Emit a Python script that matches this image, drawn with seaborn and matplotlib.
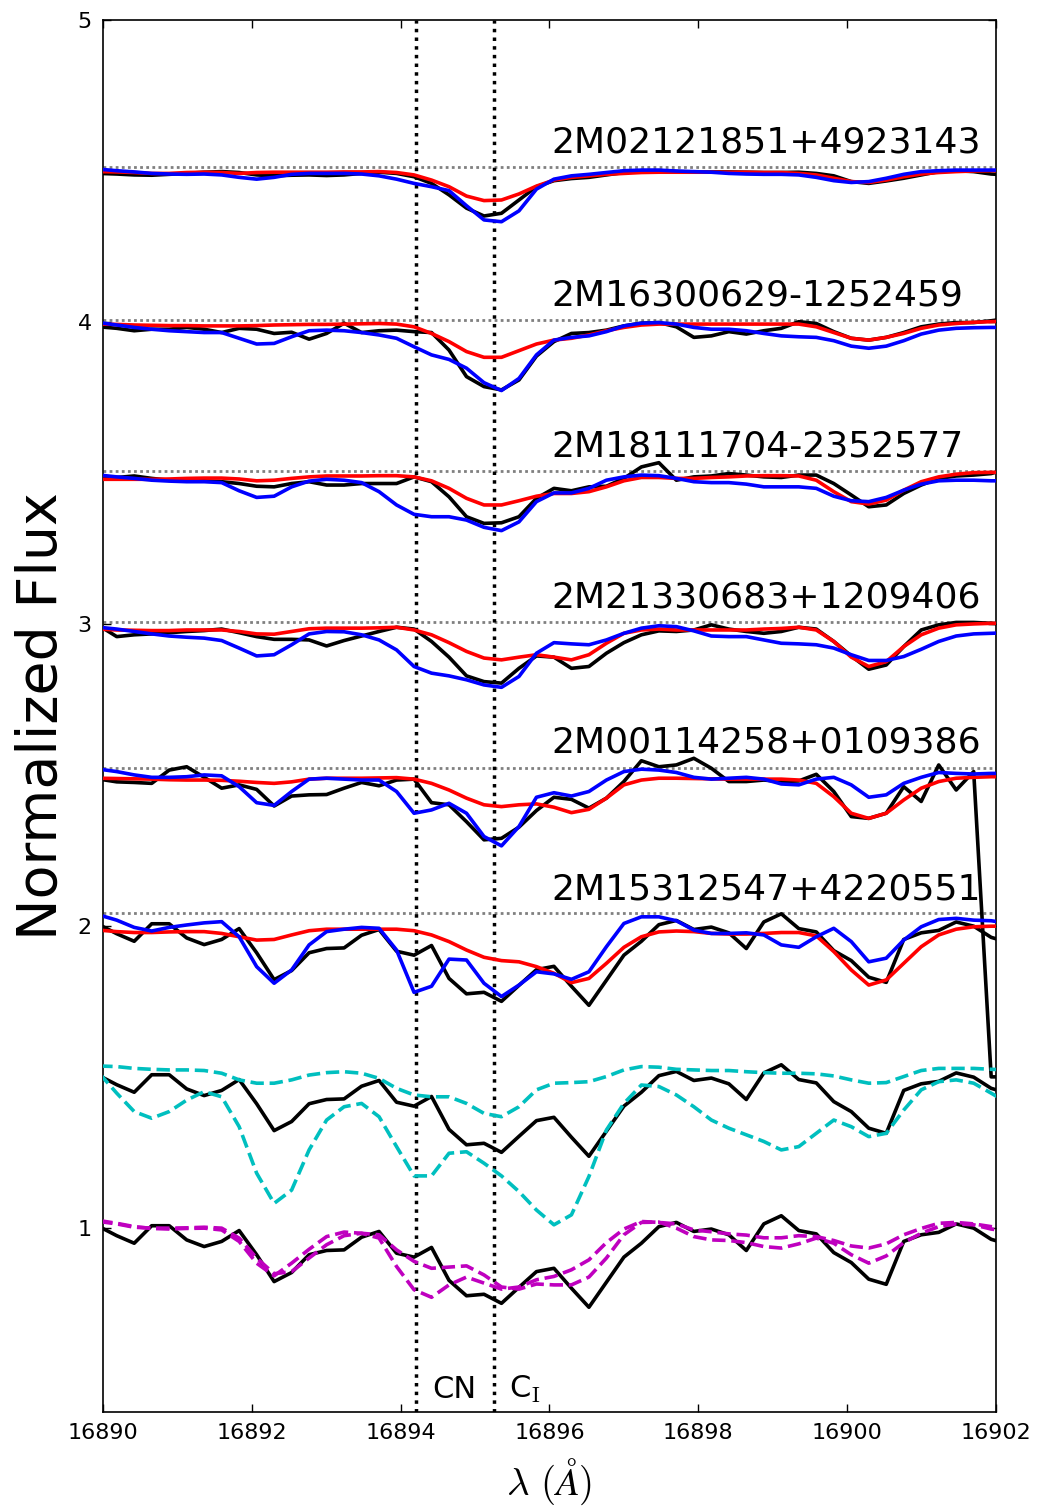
import numpy as np
import matplotlib
matplotlib.use("Agg")
import matplotlib.pyplot as plt
import seaborn as sns

# Pixel wavelengths of the spectra (Angstrom)
wave = np.linspace(16889.95, 16902.17, 53)

star_names = ["2M02121851+4923143", "2M16300629-1252459", "2M18111704-2352577",
              "2M21330683+1209406", "2M00114258+0109386", "2M15312547+4220551"]
star_offsets = [3.5, 3.0, 2.5, 2.0, 1.5, 1.0]
continuum_levels = [1.012, 1.008, 1.006, 1.006, 1.024, 1.044]
label_heights = [1.060, 1.056, 1.056, 1.053, 1.073, 1.089]

line_positions = [16894.2, 16895.25]
xticks = [16890, 16892, 16894, 16896, 16898, 16900, 16902]
yticks = [1, 2, 3, 4, 5]

# observed (black), model A (red), model B (blue) -- normalised flux
obs_1 = [0.992, 0.990, 0.987, 0.986, 0.989, 0.992, 0.996, 0.998, 0.995, 0.987,
         0.984, 0.986, 0.987, 0.985, 0.987, 0.992, 0.996, 0.992, 0.981, 0.959,
         0.921, 0.877, 0.851, 0.860, 0.904, 0.948, 0.968, 0.975, 0.979, 0.987,
         0.995, 1.001, 1.001, 0.998, 0.997, 0.997, 0.997, 0.996, 0.995, 0.995,
         0.996, 0.992, 0.984, 0.965, 0.959, 0.967, 0.976, 0.987, 0.998, 1.001,
         0.998, 0.990, 0.987]
red_1 = [0.998, 0.997, 0.995, 0.992, 0.992, 0.995, 0.996, 0.995, 0.992, 0.995,
         0.996, 0.996, 0.996, 0.996, 0.997, 0.997, 0.998, 0.995, 0.987, 0.970,
         0.948, 0.917, 0.902, 0.904, 0.924, 0.950, 0.970, 0.979, 0.984, 0.989,
         0.992, 0.995, 0.996, 0.996, 0.996, 0.996, 0.996, 0.996, 0.995, 0.995,
         0.992, 0.987, 0.976, 0.965, 0.962, 0.970, 0.981, 0.990, 0.995, 0.998,
         1.000, 1.001, 1.001]
blue_1 = [1.006, 1.001, 0.997, 0.992, 0.990, 0.989, 0.990, 0.987, 0.979, 0.973,
          0.979, 0.989, 0.992, 0.992, 0.992, 0.990, 0.984, 0.973, 0.959, 0.948,
          0.935, 0.885, 0.838, 0.832, 0.868, 0.940, 0.973, 0.984, 0.989, 0.995,
          1.001, 1.003, 1.003, 1.000, 0.998, 0.996, 0.992, 0.990, 0.989, 0.989,
          0.987, 0.979, 0.968, 0.962, 0.965, 0.976, 0.989, 0.998, 1.001, 1.003,
          1.003, 1.003, 1.003]

obs_2 = [0.984, 0.979, 0.971, 0.976, 0.976, 0.982, 0.976, 0.965, 0.979, 0.976,
         0.962, 0.966, 0.943, 0.962, 0.996, 0.965, 0.971, 0.973, 0.968, 0.965,
         0.907, 0.819, 0.786, 0.775, 0.808, 0.887, 0.935, 0.962, 0.965, 0.973,
         0.987, 0.996, 0.998, 0.984, 0.949, 0.954, 0.968, 0.960, 0.971, 0.979,
         1.001, 0.995, 0.968, 0.946, 0.940, 0.949, 0.965, 0.984, 0.993, 0.998,
         0.998, 1.004, 1.012]
red_2 = [0.993, 0.992, 0.990, 0.989, 0.988, 0.988, 0.987, 0.987, 0.987, 0.988,
         0.990, 0.991, 0.992, 0.992, 0.993, 0.994, 0.995, 0.993, 0.984, 0.962,
         0.935, 0.902, 0.883, 0.883, 0.905, 0.927, 0.940, 0.946, 0.957, 0.971,
         0.982, 0.990, 0.993, 0.993, 0.993, 0.993, 0.993, 0.993, 0.993, 0.993,
         0.993, 0.984, 0.965, 0.946, 0.940, 0.949, 0.962, 0.979, 0.990, 0.995,
         0.999, 1.001, 1.003]
blue_2 = [0.998, 0.990, 0.982, 0.976, 0.971, 0.968, 0.965, 0.965, 0.946, 0.927,
          0.929, 0.951, 0.971, 0.973, 0.971, 0.965, 0.957, 0.946, 0.918, 0.891,
          0.876, 0.847, 0.799, 0.773, 0.813, 0.891, 0.940, 0.949, 0.954, 0.968,
          0.987, 0.996, 0.998, 0.993, 0.982, 0.976, 0.976, 0.971, 0.962, 0.954,
          0.951, 0.949, 0.938, 0.920, 0.913, 0.920, 0.938, 0.960, 0.973, 0.979,
          0.981, 0.982, 0.982]

obs_3 = [0.982, 0.985, 0.990, 0.982, 0.976, 0.976, 0.974, 0.971, 0.965, 0.956,
         0.954, 0.965, 0.971, 0.960, 0.960, 0.965, 0.965, 0.965, 0.987, 0.971,
         0.921, 0.855, 0.833, 0.835, 0.855, 0.916, 0.949, 0.941, 0.954, 0.956,
         0.982, 1.020, 1.034, 0.976, 0.987, 0.990, 0.998, 0.993, 0.987, 0.985,
         0.993, 0.993, 0.965, 0.927, 0.888, 0.894, 0.932, 0.960, 0.982, 0.990,
         0.993, 0.998, 1.015]
red_3 = [0.979, 0.979, 0.979, 0.979, 0.980, 0.982, 0.983, 0.983, 0.980, 0.974,
         0.976, 0.982, 0.987, 0.990, 0.990, 0.990, 0.991, 0.991, 0.987, 0.974,
         0.949, 0.916, 0.894, 0.894, 0.908, 0.923, 0.932, 0.932, 0.938, 0.954,
         0.974, 0.985, 0.985, 0.982, 0.982, 0.985, 0.987, 0.990, 0.991, 0.991,
         0.990, 0.976, 0.938, 0.905, 0.897, 0.910, 0.943, 0.971, 0.987, 0.996,
         1.001, 1.002, 1.002]
blue_3 = [0.993, 0.987, 0.982, 0.976, 0.973, 0.971, 0.971, 0.968, 0.941, 0.919,
          0.923, 0.954, 0.973, 0.979, 0.976, 0.968, 0.938, 0.894, 0.863, 0.855,
          0.855, 0.844, 0.820, 0.809, 0.838, 0.905, 0.934, 0.934, 0.949, 0.976,
          0.987, 0.993, 0.991, 0.982, 0.971, 0.968, 0.968, 0.963, 0.954, 0.954,
          0.954, 0.949, 0.923, 0.908, 0.905, 0.919, 0.943, 0.963, 0.974, 0.976,
          0.976, 0.974, 0.974]

obs_4 = [0.994, 0.958, 0.964, 0.967, 0.971, 0.975, 0.978, 0.983, 0.971, 0.958,
         0.949, 0.949, 0.947, 0.927, 0.945, 0.960, 0.975, 0.989, 0.983, 0.942,
         0.890, 0.828, 0.809, 0.804, 0.853, 0.894, 0.890, 0.853, 0.859, 0.903,
         0.938, 0.964, 0.977, 0.975, 0.980, 0.997, 0.983, 0.975, 0.969, 0.975,
         0.989, 0.983, 0.942, 0.894, 0.850, 0.864, 0.925, 0.980, 0.997, 1.005,
         1.005, 1.002, 1.000]
red_4 = [0.983, 0.980, 0.979, 0.978, 0.978, 0.980, 0.980, 0.980, 0.975, 0.967,
         0.966, 0.975, 0.984, 0.986, 0.986, 0.986, 0.987, 0.989, 0.980, 0.964,
         0.938, 0.909, 0.887, 0.881, 0.890, 0.898, 0.890, 0.881, 0.898, 0.936,
         0.969, 0.980, 0.983, 0.980, 0.980, 0.980, 0.980, 0.980, 0.983, 0.985,
         0.989, 0.980, 0.942, 0.890, 0.859, 0.875, 0.925, 0.964, 0.986, 0.997,
         1.000, 1.002, 1.002]
blue_4 = [0.989, 0.983, 0.975, 0.967, 0.960, 0.956, 0.953, 0.945, 0.920, 0.894,
          0.898, 0.931, 0.967, 0.975, 0.974, 0.964, 0.947, 0.914, 0.859, 0.837,
          0.828, 0.815, 0.798, 0.790, 0.826, 0.903, 0.938, 0.934, 0.931, 0.947,
          0.969, 0.986, 0.994, 0.991, 0.977, 0.960, 0.958, 0.958, 0.947, 0.936,
          0.934, 0.931, 0.920, 0.898, 0.879, 0.879, 0.892, 0.916, 0.942, 0.960,
          0.967, 0.969, 0.971]

obs_5 = [0.986, 0.977, 0.975, 0.972, 1.016, 1.027, 0.992, 0.956, 0.967, 0.952,
         0.897, 0.930, 0.934, 0.935, 0.956, 0.975, 0.964, 0.983, 0.986, 0.908,
         0.901, 0.845, 0.785, 0.790, 0.827, 0.882, 0.926, 0.919, 0.890, 0.923,
         0.978, 1.047, 1.027, 1.033, 1.055, 1.022, 0.978, 0.978, 0.983, 0.978,
         0.980, 1.002, 0.945, 0.862, 0.856, 0.873, 0.961, 0.912, 1.033, 0.950,
         1.011, 0.000, 0.000]
red_5 = [0.989, 0.988, 0.987, 0.986, 0.984, 0.983, 0.983, 0.982, 0.979, 0.975,
         0.972, 0.977, 0.986, 0.989, 0.989, 0.989, 0.990, 0.991, 0.986, 0.972,
         0.950, 0.923, 0.901, 0.895, 0.901, 0.904, 0.893, 0.875, 0.886, 0.923,
         0.967, 0.983, 0.989, 0.989, 0.988, 0.987, 0.986, 0.986, 0.986, 0.986,
         0.983, 0.972, 0.928, 0.873, 0.856, 0.873, 0.917, 0.956, 0.978, 0.989,
         0.992, 0.994, 0.994]
blue_5 = [1.019, 1.011, 1.000, 0.992, 0.992, 0.994, 1.000, 0.997, 0.961, 0.908,
          0.899, 0.945, 0.986, 0.989, 0.986, 0.983, 0.983, 0.945, 0.873, 0.884,
          0.906, 0.873, 0.796, 0.765, 0.829, 0.926, 0.941, 0.930, 0.945, 0.983,
          1.011, 1.019, 1.016, 1.008, 0.992, 0.986, 0.989, 0.992, 0.986, 0.970,
          0.967, 0.986, 0.992, 0.967, 0.926, 0.934, 0.972, 0.992, 1.008, 1.005,
          1.003, 1.005, 1.005]

obs_6 = [1.004, 0.974, 0.949, 1.007, 1.007, 0.960, 0.938, 0.955, 0.991, 0.911,
         0.822, 0.852, 0.911, 0.925, 0.927, 0.969, 0.988, 0.916, 0.903, 0.935,
         0.826, 0.775, 0.780, 0.750, 0.803, 0.855, 0.866, 0.800, 0.737, 0.820,
         0.903, 0.949, 1.004, 1.018, 0.988, 0.996, 0.977, 0.925, 1.013, 1.040,
         0.991, 0.980, 0.918, 0.885, 0.830, 0.813, 0.955, 0.977, 0.985, 1.013,
         0.999, 0.962, 0.945]
red_6 = [0.986, 0.981, 0.978, 0.978, 0.980, 0.981, 0.981, 0.975, 0.964, 0.953,
         0.955, 0.970, 0.984, 0.989, 0.989, 0.989, 0.989, 0.989, 0.984, 0.970,
         0.948, 0.920, 0.896, 0.885, 0.881, 0.865, 0.843, 0.812, 0.826, 0.876,
         0.929, 0.964, 0.980, 0.983, 0.981, 0.975, 0.973, 0.973, 0.975, 0.978,
         0.978, 0.967, 0.915, 0.854, 0.804, 0.821, 0.876, 0.931, 0.970, 0.989,
         0.997, 0.999, 0.999]
blue_6 = [1.036, 1.019, 0.995, 0.983, 0.995, 1.003, 1.010, 1.014, 0.964, 0.865,
          0.810, 0.854, 0.937, 0.981, 0.989, 0.995, 0.992, 0.920, 0.780, 0.800,
          0.890, 0.887, 0.810, 0.766, 0.804, 0.848, 0.841, 0.823, 0.848, 0.931,
          1.008, 1.030, 1.030, 1.017, 0.986, 0.975, 0.975, 0.977, 0.970, 0.937,
          0.929, 0.964, 0.992, 0.948, 0.881, 0.893, 0.953, 0.997, 1.021, 1.025,
          1.019, 1.017, 1.008]

# 2M15312547+4220551 compared with two further pairs of synthetic spectra
cyan_offset = 0.5
magenta_offset = 0.0
cyan_a = [1.036, 1.034, 1.028, 1.025, 1.023, 1.023, 1.021, 1.012, 0.990, 0.979,
          0.979, 0.990, 1.006, 1.014, 1.017, 1.012, 0.995, 0.962, 0.940, 0.934,
          0.934, 0.912, 0.879, 0.868, 0.901, 0.957, 0.979, 0.981, 0.984, 1.001,
          1.023, 1.034, 1.032, 1.025, 1.023, 1.021, 1.021, 1.017, 1.014, 1.012,
          1.012, 1.010, 1.003, 0.990, 0.979, 0.981, 1.001, 1.021, 1.028, 1.028,
          1.028, 1.025, 1.023]
cyan_b = [1.012, 0.946, 0.885, 0.863, 0.885, 0.923, 0.951, 0.934, 0.835, 0.681,
          0.581, 0.625, 0.758, 0.857, 0.901, 0.912, 0.868, 0.769, 0.672, 0.672,
          0.747, 0.752, 0.714, 0.672, 0.620, 0.559, 0.510, 0.543, 0.670, 0.824,
          0.912, 0.973, 0.968, 0.940, 0.901, 0.857, 0.830, 0.808, 0.786, 0.758,
          0.769, 0.813, 0.857, 0.835, 0.802, 0.813, 0.890, 0.957, 0.984, 0.990,
          0.979, 0.946, 0.912]
magenta_a = [1.024, 1.015, 1.004, 0.998, 0.996, 0.998, 0.999, 0.993, 0.955, 0.883,
             0.841, 0.883, 0.929, 0.971, 0.986, 0.982, 0.966, 0.872, 0.795, 0.770,
             0.811, 0.837, 0.817, 0.797, 0.804, 0.828, 0.839, 0.861, 0.894, 0.951,
             0.996, 1.021, 1.018, 1.013, 0.993, 0.987, 0.980, 0.976, 0.967, 0.967,
             0.974, 0.971, 0.958, 0.940, 0.933, 0.947, 0.977, 0.998, 1.015, 1.018,
             1.013, 1.004, 0.996]
magenta_b = [1.021, 1.013, 1.002, 0.999, 0.999, 1.000, 1.002, 0.999, 0.966, 0.900,
             0.848, 0.855, 0.900, 0.944, 0.974, 0.982, 0.977, 0.927, 0.889, 0.866,
             0.870, 0.874, 0.844, 0.804, 0.797, 0.814, 0.811, 0.811, 0.837, 0.900,
             0.977, 1.018, 1.019, 0.999, 0.971, 0.960, 0.958, 0.951, 0.938, 0.933,
             0.947, 0.966, 0.949, 0.911, 0.883, 0.907, 0.951, 0.982, 1.004, 1.013,
             1.010, 0.996, 0.988]

observed = [obs_1, obs_2, obs_3, obs_4, obs_5, obs_6]
model_red = [red_1, red_2, red_3, red_4, red_5, red_6]
model_blue = [blue_1, blue_2, blue_3, blue_4, blue_5, blue_6]

sns.set_style("ticks")
plt.rcParams["font.family"] = ["DejaVu Sans"]
plt.rcParams["mathtext.fontset"] = "cm"
plt.rcParams["text.color"] = "black"
plt.rcParams["axes.labelcolor"] = "black"
plt.rcParams["xtick.color"] = "black"
plt.rcParams["ytick.color"] = "black"
plt.rcParams["axes.edgecolor"] = "black"

fig, ax = plt.subplots(figsize=(10.4, 15.06), dpi=100)
fig.subplots_adjust(left=0.099, right=0.9577, bottom=0.0624, top=0.9867)

LW = 2.6
grey_dots = (0, (1, 1.2))
black_dots = (0, (1, 1.5))

for name, off, cont, lab_y, obs, red, blue in zip(
        star_names, star_offsets, continuum_levels, label_heights,
        observed, model_red, model_blue):
    ax.axhline(cont + off, color="0.5", lw=2, ls=grey_dots, zorder=1)
    sns.lineplot(x=wave, y=np.asarray(obs) + off, color="k", lw=LW, ax=ax, zorder=2)
    sns.lineplot(x=wave, y=np.asarray(red) + off, color="r", lw=LW, ax=ax, zorder=3)
    sns.lineplot(x=wave, y=np.asarray(blue) + off, color="b", lw=LW, ax=ax, zorder=4)
    ax.text(16896.02, lab_y + off, name, fontsize=26, color="black",
            ha="left", va="baseline")

obs_bottom = np.asarray(obs_6)
sns.lineplot(x=wave, y=obs_bottom + cyan_offset, color="k", lw=LW, ax=ax, zorder=2)
for curve in (cyan_a, cyan_b):
    sns.lineplot(x=wave, y=np.asarray(curve) + cyan_offset, color="c", lw=LW,
                 linestyle="--", ax=ax, zorder=3)
sns.lineplot(x=wave, y=obs_bottom + magenta_offset, color="k", lw=LW, ax=ax, zorder=2)
for curve in (magenta_a, magenta_b):
    sns.lineplot(x=wave, y=np.asarray(curve) + magenta_offset, color="m", lw=LW,
                 linestyle="--", ax=ax, zorder=3)

for xl in line_positions:
    ax.axvline(xl, color="k", lw=2.5, ls=black_dots, zorder=1)
ax.text(16894.72, 0.437, "CN", fontsize=22, color="black", ha="center", va="baseline")
ax.text(16895.46, 0.437, r"C$_\mathrm{I}$", fontsize=22, color="black",
        ha="left", va="baseline")

ax.set_xlim(16890, 16902)
ax.set_ylim(0.39, 5.0)
ax.set_xticks(xticks)
ax.set_xticklabels([str(t) for t in xticks])
ax.set_yticks(yticks)
ax.set_yticklabels([str(t) for t in yticks])
ax.tick_params(direction="in", length=6, width=1, labelsize=16, pad=8,
               top=True, right=True, colors="black")
for sp in ax.spines.values():
    sp.set_linewidth(1.2)
    sp.set_color("k")
ax.set_xlabel(r"$\lambda\ (\AA)$", fontsize=28, labelpad=10, color="black")
ax.set_ylabel("Normalized Flux", fontsize=40, labelpad=6, color="black")

fig.savefig("out.png", dpi=100)
